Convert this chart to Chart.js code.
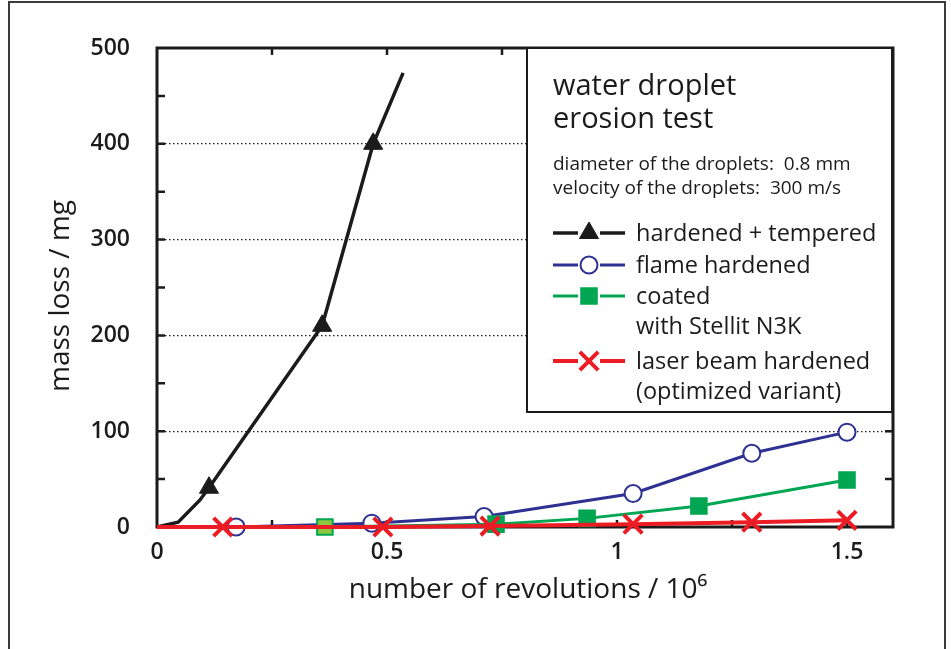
<!DOCTYPE html>
<html>
<head>
<meta charset="utf-8">
<script src="https://cdn.jsdelivr.net/npm/chart.js@4.4.0/dist/chart.umd.min.js"></script>
<style>
  html, body { margin: 0; padding: 0; background: #fff; }
  #wrap { position: relative; width: 951px; height: 649px; }
</style>
</head>
<body>
<div id="wrap"><canvas id="erosionChart" width="951" height="649"></canvas></div>
<script>
// ========== DATA ==========
const hardenedX = [0, 0.046, 0.093, 0.113, 0.359, 0.470, 0.535];
const hardenedY = [0, 5, 28, 41, 210, 400, 474];
const hardenedMarks = [0, 0, 0, 1, 1, 1, 0];

const flameX = [0, 0.172, 0.467, 0.711, 1.035, 1.293, 1.5];
const flameY = [0, 0, 4, 11, 35, 77, 99];
const flameMarks = [0, 1, 1, 1, 1, 1, 1];

const coatedX = [0, 0.365, 0.737, 0.935, 1.178, 1.5];
const coatedY = [0, 0, 3, 9, 22, 49];
const coatedMarks = [0, 1, 1, 1, 1, 1];

const laserX = [0, 0.143, 0.491, 0.724, 1.035, 1.293, 1.5];
const laserY = [0, 0, 0, 1, 3, 5, 7];
const laserMarks = [0, 1, 1, 1, 1, 1, 1];

const xTickLabels = ['0', '0.5', '1', '1.5'];
const yTickLabels = [0, 100, 200, 300, 400, 500];

const legendTitle = ['water droplet', 'erosion test'];
const legendNotes = ['diameter of the droplets:  0.8 mm', 'velocity of the droplets:  300 m/s'];
const legendLabels = [
    ['hardened + tempered'],
    ['flame hardened'],
    ['coated', 'with Stellit N3K'],
    ['laser beam hardened', '(optimized variant)']
];

const FONT = '"Open Sans", "Noto Sans", sans-serif';
const BLACK = '#1b1b1b';
const BLUE = '#2e3192';
const GREEN = '#00a651';
const RED = '#ec1c24';

function toPoints(xs, ys) {
    return xs.map((x, i) => ({ x: x, y: ys[i] }));
}

// ========== PLUGIN: frame, inward ticks, titles, legend box ==========
const frameAndLegend = {
    id: 'frameAndLegend',
    beforeDatasetsDraw(chart) {
        const ctx = chart.ctx;
        const a = chart.chartArea;
        const xs = chart.scales.x;
        const ys = chart.scales.y;
        ctx.save();
        ctx.strokeStyle = BLACK;
        ctx.lineWidth = 2.5;
        for (let i = 1; i * 0.25 < 1.6; i++) {
            const px = xs.getPixelForValue(i * 0.25);
            ctx.beginPath();
            ctx.moveTo(px, a.bottom); ctx.lineTo(px, a.bottom - 7);
            ctx.moveTo(px, a.top); ctx.lineTo(px, a.top + 7);
            ctx.stroke();
        }
        for (let v = 50; v < 500; v += 50) {
            const py = ys.getPixelForValue(v);
            ctx.beginPath();
            ctx.moveTo(a.left, py); ctx.lineTo(a.left + 8, py);
            ctx.moveTo(a.right, py); ctx.lineTo(a.right - 8, py);
            ctx.stroke();
        }
        ctx.lineWidth = 3;
        ctx.strokeRect(a.left, a.top, a.right - a.left, a.bottom - a.top);
        ctx.restore();
    },
    afterDraw(chart) {
        const ctx = chart.ctx;
        ctx.save();
        // outer frame
        ctx.strokeStyle = '#3a3a3a';
        ctx.lineWidth = 2;
        ctx.beginPath();
        ctx.moveTo(9, 649); ctx.lineTo(9, 2); ctx.lineTo(945, 2); ctx.lineTo(945, 649);
        ctx.stroke();

        // axis titles
        ctx.fillStyle = BLACK;
        ctx.font = '28px ' + FONT;
        ctx.textAlign = 'center';
        ctx.textBaseline = 'alphabetic';
        ctx.fillText('number of revolutions / 10\u2076', 528, 598);
        ctx.save();
        ctx.translate(69, 296);
        ctx.rotate(-Math.PI / 2);
        ctx.fillText('mass loss / mg', 0, 0);
        ctx.restore();

        // legend box
        const bx = 527, by = 48, bw = 365, bh = 364;
        ctx.fillStyle = '#fff';
        ctx.fillRect(bx, by, bw, bh);
        ctx.strokeStyle = BLACK;
        ctx.lineWidth = 2;
        ctx.strokeRect(bx, by, bw, bh);

        ctx.fillStyle = BLACK;
        ctx.textAlign = 'left';
        ctx.font = '29px ' + FONT;
        ctx.fillText(legendTitle[0], 553, 95);
        ctx.fillText(legendTitle[1], 553, 128);
        ctx.font = '19px ' + FONT;
        ctx.fillText(legendNotes[0], 553, 170);
        ctx.fillText(legendNotes[1], 553, 194);

        const rows = [233, 265, 296, 361];
        const sets = chart.data.datasets;
        const order = [3, 2, 1, 0];
        ctx.font = '23.5px ' + FONT;
        legendLabels.forEach((lines, i) => {
            const ds = sets[order[i]];
            const y = rows[i];
            ctx.strokeStyle = ds.borderColor;
            ctx.lineWidth = ds.borderWidth;
            ctx.beginPath();
            ctx.moveTo(553, y); ctx.lineTo(625, y);
            ctx.stroke();
            ctx.fillStyle = '#fff';
            ctx.fillRect(578, y - 10, 22, 20);
            ctx.fillStyle = ds.legendFill;
            ctx.strokeStyle = ds.borderColor;
            ctx.lineWidth = ds.pointBorderWidth;
            Chart.helpers.drawPoint(ctx, {
                pointStyle: ds.pointStyle,
                radius: ds.legendRadius,
                rotation: 0,
                borderWidth: ds.pointBorderWidth
            }, 589, y);
            ctx.fillStyle = BLACK;
            lines.forEach((t, j) => ctx.fillText(t, 636, y + 8 + j * 30));
        });
        ctx.restore();
    }
};

// ========== CHART ==========
const ctx = document.getElementById('erosionChart');
window.erosionChart = new Chart(ctx, {
    type: 'scatter',
    data: {
        datasets: [
            {
                label: 'laser beam hardened (optimized variant)',
                data: toPoints(laserX, laserY),
                showLine: true,
                clip: false,
                borderColor: RED,
                backgroundColor: RED,
                borderWidth: 4,
                pointStyle: 'crossRot',
                pointRadius: laserMarks.map(m => m ? 13 : 0),
                pointBorderWidth: 4,
                pointBorderColor: RED,
                legendFill: RED,
                legendRadius: 13
            },
            {
                label: 'coated with Stellit N3K',
                data: toPoints(coatedX, coatedY),
                showLine: true,
                clip: false,
                borderColor: GREEN,
                backgroundColor: coatedX.map((x, i) => i === 1 ? '#8dc63f' : GREEN),
                borderWidth: 3,
                pointStyle: 'rect',
                pointRadius: coatedMarks.map(m => m ? 11 : 0),
                pointBorderWidth: 2,
                pointBorderColor: GREEN,
                legendFill: GREEN,
                legendRadius: 11
            },
            {
                label: 'flame hardened',
                data: toPoints(flameX, flameY),
                showLine: true,
                clip: false,
                borderColor: BLUE,
                backgroundColor: '#fff',
                borderWidth: 3,
                pointStyle: 'circle',
                pointRadius: flameMarks.map(m => m ? 8.5 : 0),
                pointBorderWidth: 2,
                pointBorderColor: BLUE,
                legendFill: '#fff',
                legendRadius: 8.5
            },
            {
                label: 'hardened + tempered',
                data: toPoints(hardenedX, hardenedY),
                showLine: true,
                clip: false,
                borderColor: BLACK,
                backgroundColor: BLACK,
                borderWidth: 3.5,
                pointStyle: 'triangle',
                pointRadius: hardenedMarks.map(m => m ? 11 : 0),
                pointBorderWidth: 1,
                pointBorderColor: BLACK,
                legendFill: BLACK,
                legendRadius: 11
            }
        ]
    },
    options: {
        responsive: false,
        animation: false,
        layout: { padding: { left: 0, top: 48, right: 58, bottom: 0 } },
        plugins: { legend: { display: false }, tooltip: { enabled: false } },
        elements: { line: { tension: 0 } },
        scales: {
            x: {
                type: 'linear',
                min: 0,
                max: 1.6,
                afterFit(scale) { scale.height = 122; },
                afterBuildTicks(scale) {
                    scale.ticks = xTickLabels.map(t => ({ value: parseFloat(t) }));
                },
                grid: { display: false, drawTicks: false },
                border: { display: false },
                ticks: {
                    padding: 12,
                    color: BLACK,
                    font: { family: FONT, size: 23, weight: '600' },
                    callback: v => xTickLabels.find(t => Math.abs(parseFloat(t) - v) < 1e-6) || ''
                }
            },
            y: {
                min: 0,
                max: 500,
                afterFit(scale) { scale.width = 157; },
                border: { display: false, dash: [1.5, 2.5] },
                grid: {
                    drawTicks: false,
                    lineWidth: 1.2,
                    color: c => (c.tick.value > 0 && c.tick.value < 500 ? '#222' : 'rgba(0,0,0,0)')
                },
                ticks: {
                    stepSize: 100,
                    padding: 27,
                    color: BLACK,
                    font: { family: FONT, size: 23, weight: '600' },
                    callback: v => (yTickLabels.includes(v) ? String(v) : '')
                }
            }
        }
    },
    plugins: [frameAndLegend]
});
</script>
</body>
</html>
